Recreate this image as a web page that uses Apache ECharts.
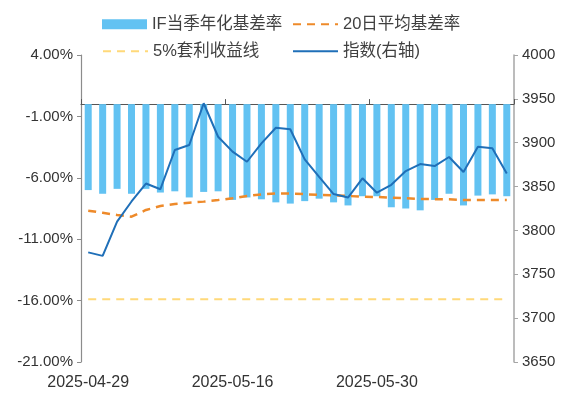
<!DOCTYPE html>
<html>
<head>
<meta charset="utf-8">
<script src="https://cdn.jsdelivr.net/npm/echarts@6/dist/echarts.min.js"></script>
<style>html,body{margin:0;padding:0;background:#fff}#c{width:570px;height:396px}</style>
</head>
<body>
<div id="c"></div>
<script>
const categories = ['2025-04-29','2025-04-30','2025-05-06','2025-05-07','2025-05-08','2025-05-09','2025-05-12','2025-05-13','2025-05-14','2025-05-15','2025-05-16','2025-05-19','2025-05-20','2025-05-21','2025-05-22','2025-05-23','2025-05-26','2025-05-27','2025-05-28','2025-05-29','2025-05-30','2025-06-03','2025-06-04','2025-06-05','2025-06-06','2025-06-09','2025-06-10','2025-06-11','2025-06-12','2025-06-13'];
const basisRate = [-7.0,-7.3,-6.9,-7.3,-6.9,-7.2,-7.1,-7.6,-7.15,-7.1,-7.8,-7.6,-7.75,-8.0,-8.1,-7.9,-7.7,-8.0,-8.25,-7.5,-7.5,-8.4,-8.5,-8.65,-7.8,-7.3,-8.25,-7.45,-7.35,-7.5];
const avg20Rate = [-8.68,-8.85,-9.03,-9.17,-8.62,-8.30,-8.13,-8.03,-7.94,-7.81,-7.67,-7.48,-7.35,-7.27,-7.27,-7.33,-7.40,-7.42,-7.48,-7.54,-7.56,-7.62,-7.67,-7.73,-7.74,-7.75,-7.81,-7.81,-7.81,-7.81];
const arbLine = Array(30).fill(-15.9);
const indexValues = [3775,3771,3810,3833,3853.5,3847,3891.7,3897.4,3945,3906.8,3889.8,3878.3,3899.3,3917,3915.3,3881,3861,3841.5,3837.5,3859.4,3843,3852,3867.7,3875.7,3873.4,3883.7,3866.6,3895.4,3893.6,3865];
const leftTicks = {min:-21, max:4, interval:5};
const rightTicks = {min:3650, max:4000, interval:50};

const FONT = '"Liberation Sans", Arial, "Noto Sans CJK SC", sans-serif';
const chart = echarts.init(document.getElementById('c'), null, {renderer:'canvas'});
const legTxt = {fontSize:16.5, color:'#404040', fontFamily:FONT};
function leg(name, left, top, isBar){
  const o = {data:[{name:name}], left:left, top:top, itemWidth:45, itemHeight:10, textStyle:legTxt, padding:0, selectedMode:false};
  if(isBar) o.data[0].icon = 'rect';
  else o.itemStyle = {opacity:0};
  return o;
}
chart.setOption({
  animation:false,
  textStyle:{fontFamily:FONT},
  legend:[
    leg('IF当季年化基差率',102,16,true),
    leg('20日平均基差率',292,16),
    leg('5%套利收益线',102,43),
    leg('指数(右轴)',292,43)
  ],
  grid:{left:81, top:55, width:433, height:307, containLabel:false},
  xAxis:[
    {type:'category', data:categories, position:'bottom',
     axisLine:{show:false}, axisTick:{show:false},
     axisLabel:{interval:9, fontSize:16, color:'#333', margin:13, fontFamily:FONT}},
    {type:'category', data:categories, position:'top',
     axisLine:{show:true, onZero:true, onZeroAxisIndex:0, lineStyle:{color:'#555', width:1.2}},
     axisTick:{show:true, interval:9, inside:false, length:5, lineStyle:{color:'#555'}},
     axisLabel:{show:false}}
  ],
  yAxis:[
    {type:'value', min:leftTicks.min, max:leftTicks.max, interval:leftTicks.interval, position:'left',
     axisLine:{show:true, lineStyle:{color:'#8c8c8c', width:1.2}},
     axisTick:{show:true, length:4, lineStyle:{color:'#8c8c8c'}},
     splitLine:{show:false},
     axisLabel:{formatter:v=>v.toFixed(2)+'%', fontSize:15, color:'#333', margin:8, fontFamily:FONT}},
    {type:'value', min:rightTicks.min, max:rightTicks.max, interval:rightTicks.interval, position:'right',
     axisLine:{show:true, lineStyle:{color:'#a6a6a6', width:1.5}},
     axisTick:{show:true, length:4, lineStyle:{color:'#a6a6a6'}},
     splitLine:{show:false},
     axisLabel:{formatter:v=>String(v), fontSize:15, color:'#333', margin:8, fontFamily:FONT}}
  ],
  series:[
    {name:'IF当季年化基差率', type:'bar', data:basisRate, xAxisIndex:0, yAxisIndex:0, barWidth:7,
     itemStyle:{color:'#62c2f2'}},
    {name:'20日平均基差率', type:'line', data:avg20Rate, xAxisIndex:0, yAxisIndex:0, symbol:'none',
     lineStyle:{color:'#ee8a2a', width:2.5, type:[8,6]}, itemStyle:{color:'#ee8a2a'}},
    {name:'5%套利收益线', type:'line', data:arbLine, xAxisIndex:0, yAxisIndex:0, symbol:'none',
     lineStyle:{color:'#ffd97a', width:2, type:[8,6]}, itemStyle:{color:'#ffd97a'}},
    {name:'指数(右轴)', type:'line', data:indexValues, xAxisIndex:0, yAxisIndex:1, symbol:'none',
     lineStyle:{color:'#1f6fb8', width:2}, itemStyle:{color:'#1f6fb8'}}
  ]
});
</script>
</body>
</html>
